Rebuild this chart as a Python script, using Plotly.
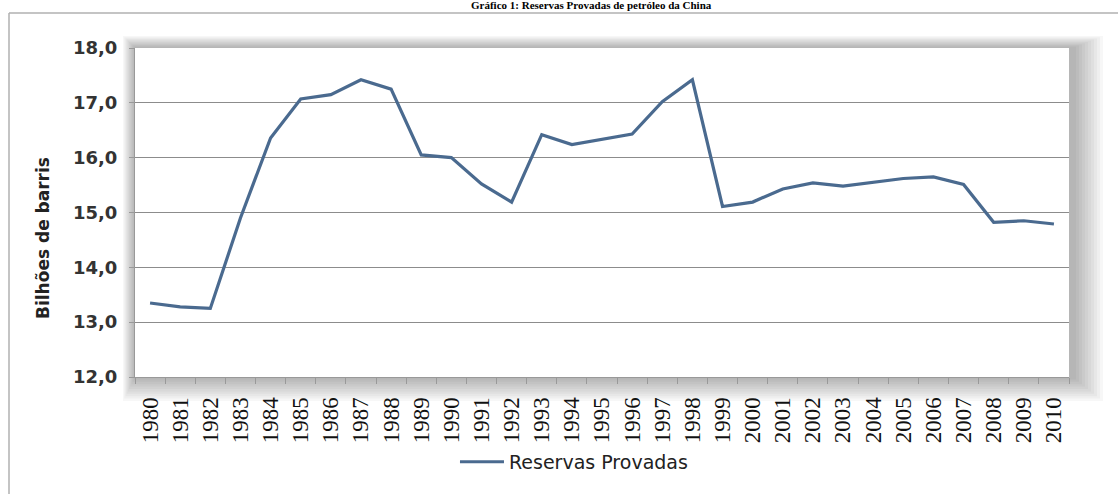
import plotly.graph_objects as go

years = [str(y) for y in range(1980, 2011)]
reservas = [13.35, 13.28, 13.25, 14.9, 16.36, 17.07, 17.15, 17.42, 17.25, 16.05,
            16.0, 15.52, 15.19, 16.42, 16.24, 16.34, 16.43, 17.02, 17.42, 15.11,
            15.19, 15.43, 15.54, 15.48, 15.55, 15.62, 15.65, 15.51, 14.82, 14.85, 14.79]
y_ticks = [12, 13, 14, 15, 16, 17, 18]
titulo = "Gráfico 1: Reservas Provadas de petróleo da China"
y_titulo = "Bilhões de barris"

fig = go.Figure()
fig.add_trace(go.Scatter(
    x=years, y=reservas, mode="lines", name="Reservas Provadas",
    line=dict(color="#4a6a8f", width=3.2)))

shapes = []
# outer chart border (left and top visible)
shapes.append(dict(type="line", xref="paper", yref="paper",
                   x0=-126/934, x1=1.2, y0=1 + 35/329, y1=1 + 35/329,
                   line=dict(color="#b0b0b0", width=1.5), layer="below"))
shapes.append(dict(type="line", xref="paper", yref="paper",
                   x0=-126/934, x1=-126/934, y0=1 + 35/329, y1=-0.5,
                   line=dict(color="#b0b0b0", width=1.5), layer="below"))
# soft shadow around plot area
for i in range(10):
    d = (10 - i) * 3
    shapes.append(dict(type="rect", xref="paper", yref="paper",
                       x0=-(d * 0.4) / 934, x1=1 + (d + 4) / 934,
                       y0=-(d * 0.8) / 329, y1=1 + (d * 0.4) / 329,
                       fillcolor="rgba(0,0,0,0.03)", line=dict(width=0), layer="below"))
shapes.append(dict(type="rect", xref="paper", yref="paper", x0=0, x1=1, y0=0, y1=1,
                   fillcolor="white", line=dict(width=0), layer="below"))

fig.update_layout(
    width=1118, height=494,
    margin=dict(l=135, r=49, t=48, b=117),
    paper_bgcolor="white", plot_bgcolor="rgba(0,0,0,0)",
    separators=",.",
    shapes=shapes,
    showlegend=True,
    legend=dict(orientation="h", x=0.47, xanchor="center", y=-0.258, yanchor="middle",
                font=dict(family="DejaVu Sans", size=19, color="#222"),
                bgcolor="rgba(0,0,0,0)", itemwidth=44),
    annotations=[
        dict(text="<b>" + titulo + "</b>", xref="paper", yref="paper",
             x=0.489, xanchor="center", y=1 + 35/329, yanchor="bottom",
             showarrow=False,
             font=dict(family="Liberation Serif", size=11, color="black")),
        dict(text="<b>" + y_titulo + "</b>", xref="paper", yref="paper",
             x=-92/934, xanchor="center", y=139/329, yanchor="middle",
             textangle=-90, showarrow=False,
             font=dict(family="DejaVu Sans", size=17, color="#222")),
    ],
    xaxis=dict(type="category", tickangle=-90, tickson="boundaries",
               ticks="outside", ticklen=6, tickcolor="#999", tickwidth=1,
               ticklabelstandoff=10,
               tickfont=dict(family="Liberation Serif", size=23, color="#111"),
               showline=True, linecolor="#999", linewidth=1,
               showgrid=False, range=[-0.5, 30.5]),
    yaxis=dict(range=[12, 18], tickvals=y_ticks, tickformat=".1f",
               ticks="outside", ticklen=5, tickcolor="#999",
               ticklabelstandoff=8,
               tickfont=dict(family="DejaVu Sans", size=18, color="#333", weight="bold"),
               showline=True, linecolor="#999", linewidth=1,
               showgrid=True, gridcolor="#8c8c8c", gridwidth=1,
               zeroline=False),
)

fig.write_html("out.html")
